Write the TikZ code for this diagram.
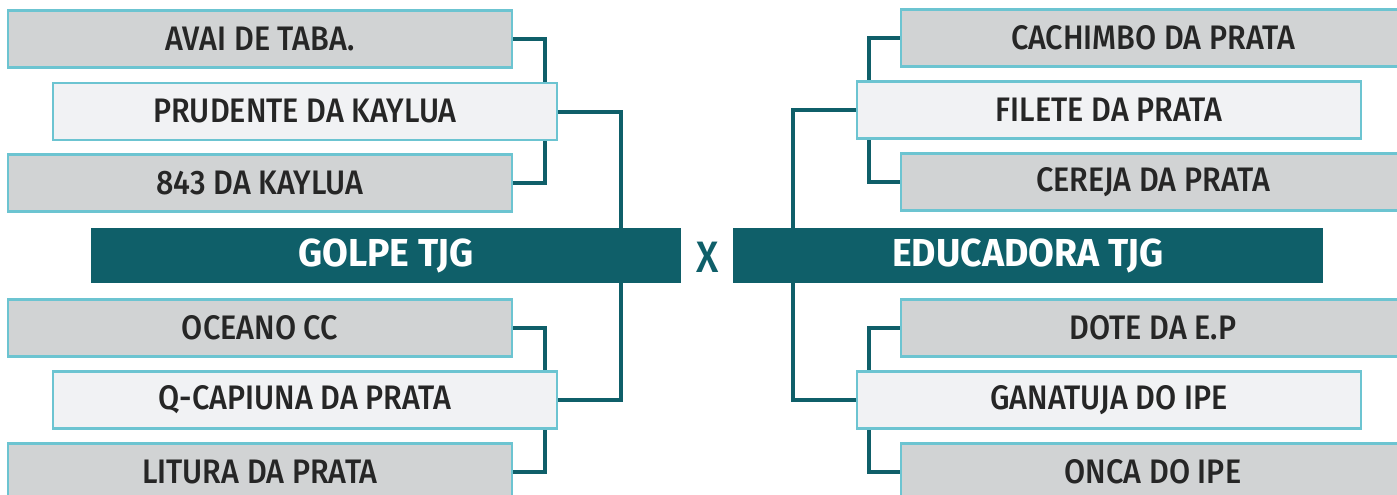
\documentclass[tikz,border=0pt]{standalone}
\usepackage{fontspec}
\usepackage{tikz}
\newfontfamily\teamfont[FakeStretch=0.9, UprightFont=* Medium, BoldFont=* Bold]{Fira Sans}
\newfontfamily\finalfont[FakeStretch=0.96, UprightFont=* Bold]{Fira Sans}
\definecolor{teal}{HTML}{0F5F69}
\definecolor{rim}{HTML}{6CC4D1}
\definecolor{boxgray}{HTML}{D1D3D4}
\definecolor{boxlight}{HTML}{F1F2F4}
\tikzset{
  seed/.style={draw=rim, line width=2.5pt, fill=boxgray, minimum width=504pt, minimum height=57pt, inner sep=0pt, font=\teamfont\fontsize{34}{40}\selectfont, text=black!85},
  winner/.style={seed, fill=boxlight},
  finalist/.style={fill=teal, minimum width=590pt, minimum height=55pt, inner sep=0pt, font=\finalfont\fontsize{39}{44}\selectfont, text=white},
  link/.style={draw=teal, line width=4pt}
}

\begin{document}
\begin{tikzpicture}[x=1pt, y=-1pt]
  \useasboundingbox (0,0) rectangle (1397,495);
  % left side
  \node[seed] (avai) at (260,39) {AVAI DE TABA.};
  \node[seed] (kaylua) at (260,183) {843 DA KAYLUA};
  \draw[link] (avai.east) -- ++(32,0) |- (kaylua.east);
  \node[winner] (prudente) at (305,111.5) {PRUDENTE DA KAYLUA};
  \node[seed] (oceano) at (260,328) {OCEANO CC};
  \node[seed] (litura) at (260,472) {LITURA DA PRATA};
  \draw[link] (oceano.east) -- ++(32,0) |- (litura.east);
  \node[winner] (capiuna) at (305,400) {Q-CAPIUNA DA PRATA};
  \node[finalist] (golpe) at (386,255.5) {GOLPE TJG};
  \draw[link] (prudente.east) -- ++(63,0) coordinate (jl) -- (jl |- golpe.north);
  \draw[link] (golpe.south -| jl) |- (capiuna.east);
  % right side
  \node[seed] (cachimbo) at (1153,38) {CACHIMBO DA PRATA};
  \node[seed] (cereja) at (1153,182) {CEREJA DA PRATA};
  \draw[link] (cachimbo.west) -- ++(-31,0) |- (cereja.west);
  \node[winner] (filete) at (1109,110) {FILETE DA PRATA};
  \node[seed] (dote) at (1153,328) {DOTE DA E.P};
  \node[seed] (onca) at (1153,472) {ONCA DO IPE};
  \draw[link] (dote.west) -- ++(-31,0) |- (onca.west);
  \node[winner] (ganatuja) at (1109,400) {GANATUJA DO IPE};
  \node[finalist] (educadora) at (1028,255.5) {EDUCADORA TJG};
  \draw[link] (filete.west) -- ++(-63,0) coordinate (jr) -- (jr |- educadora.north);
  \draw[link] (educadora.south -| jr) |- (ganatuja.west);
  % versus
  \node[font=\teamfont\fontsize{44}{48}\selectfont, text=teal, inner sep=0pt] (vs) at (708,257) {X};
\end{tikzpicture}
\end{document}
